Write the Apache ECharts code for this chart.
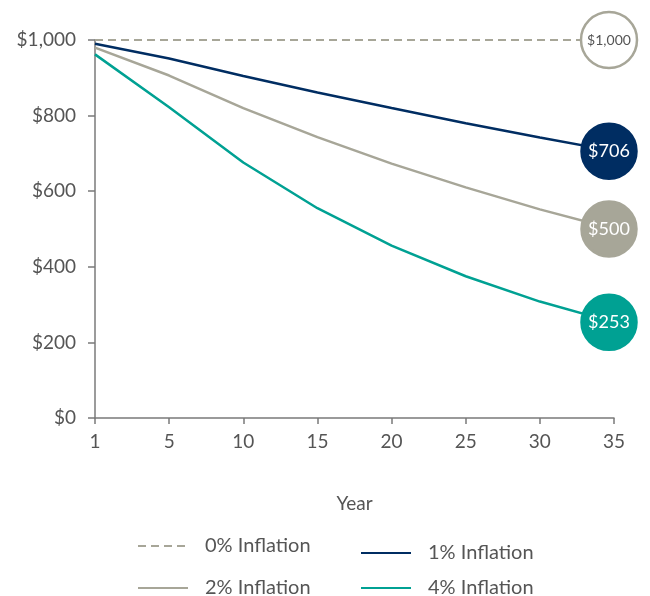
<!DOCTYPE html>
<html>
<head>
<meta charset="utf-8">
<script src="https://cdn.jsdelivr.net/npm/echarts@6/dist/echarts.min.js"></script>
<style>
  html, body { margin: 0; padding: 0; background: #fff; }
  #chart { width: 650px; height: 596px; }
</style>
</head>
<body>
<div id="chart"></div>
<script>
const years = ["1", "5", "10", "15", "20", "25", "30", "35"];
const inflation0 = [1000, 1000, 1000, 1000, 1000, 1000, 1000, 1000];
const inflation1 = [990, 951, 905, 861, 820, 780, 742, 706];
const inflation2 = [980, 906, 820, 743, 673, 610, 552, 500];
const inflation4 = [962, 822, 676, 555, 456, 375, 308, 253];

const fontFamily = "Lato, 'Open Sans', sans-serif";
const textColor = "#555";
const axisColor = "#7a7a7a";

const navy = "#002d62";
const grey = "#a7a698";
const teal = "#00a193";

// only the last point gets a bubble with its value in it
const withEndBubble = (values, fill, border, labelColor, labelSize, size) =>
  values.map((v, i) => {
    if (i < values.length - 1) return v;
    return {
      value: v,
      symbol: "circle",
      symbolSize: size,
      symbolOffset: [-5, 0],
      itemStyle: { color: fill, borderColor: border, borderWidth: 2.5 },
      label: {
        show: true,
        position: "inside",
        formatter: (p) => "$" + p.value.toLocaleString("en-US"),
        color: labelColor,
        fontSize: labelSize,
        fontFamily: fontFamily,
      },
    };
  });

// one legend per entry so each can sit exactly where it does in the original
const legendAt = (name, left, top) => ({
  left: left,
  top: top,
  itemWidth: 50,
  itemHeight: 14,
  itemStyle: { opacity: 0 },
  textStyle: {
    color: textColor,
    fontSize: 20,
    fontFamily: fontFamily,
    padding: [0, 0, 0, 12],
  },
  data: [name],
});

const chart = echarts.init(document.querySelector("#chart"));
window.addEventListener("resize", () => chart.resize());

chart.setOption({
  animation: false,
  textStyle: { fontFamily: fontFamily },
  grid: { left: 95, right: 36, top: 40, bottom: 178 },
  xAxis: {
    type: "category",
    data: years,
    boundaryGap: false,
    name: "Year",
    nameLocation: "middle",
    nameGap: 76,
    nameTextStyle: { color: textColor, fontSize: 19, fontFamily: fontFamily },
    axisLine: { lineStyle: { color: axisColor, width: 1.5 } },
    axisTick: { show: true, length: 6, lineStyle: { color: axisColor, width: 1.5 } },
    axisLabel: { color: textColor, fontSize: 19, margin: 14, fontFamily: fontFamily },
  },
  yAxis: {
    type: "value",
    min: 0,
    max: 1000,
    interval: 200,
    splitLine: { show: false },
    axisLine: { show: true, lineStyle: { color: axisColor, width: 1.5 } },
    axisTick: { show: true, length: 7, lineStyle: { color: axisColor, width: 1.5 } },
    axisLabel: {
      color: textColor,
      fontSize: 19,
      margin: 19,
      fontFamily: fontFamily,
      formatter: (v) => "$" + v.toLocaleString("en-US"),
    },
  },
  legend: [
    legendAt("0% Inflation", 132, 531),
    legendAt("1% Inflation", 355, 538),
    legendAt("2% Inflation", 132, 573),
    legendAt("4% Inflation", 355, 573),
  ],
  series: [
    {
      name: "0% Inflation",
      type: "line",
      symbol: "none",
      z: 1,
      lineStyle: { color: grey, width: 2, type: [8, 5] },
      itemStyle: { color: grey },
      data: withEndBubble(inflation0, "#fff", grey, textColor, 14, 56),
    },
    {
      name: "1% Inflation",
      type: "line",
      symbol: "none",
      z: 4,
      lineStyle: { color: navy, width: 2.5 },
      itemStyle: { color: navy },
      data: withEndBubble(inflation1, navy, navy, "#fff", 18, 55),
    },
    {
      name: "2% Inflation",
      type: "line",
      symbol: "none",
      z: 3,
      lineStyle: { color: grey, width: 2.5 },
      itemStyle: { color: grey },
      data: withEndBubble(inflation2, grey, grey, "#fff", 18, 55),
    },
    {
      name: "4% Inflation",
      type: "line",
      symbol: "none",
      z: 2,
      lineStyle: { color: teal, width: 2.5 },
      itemStyle: { color: teal },
      data: withEndBubble(inflation4, teal, teal, "#fff", 18, 55),
    },
  ],
});
</script>
</body>
</html>
